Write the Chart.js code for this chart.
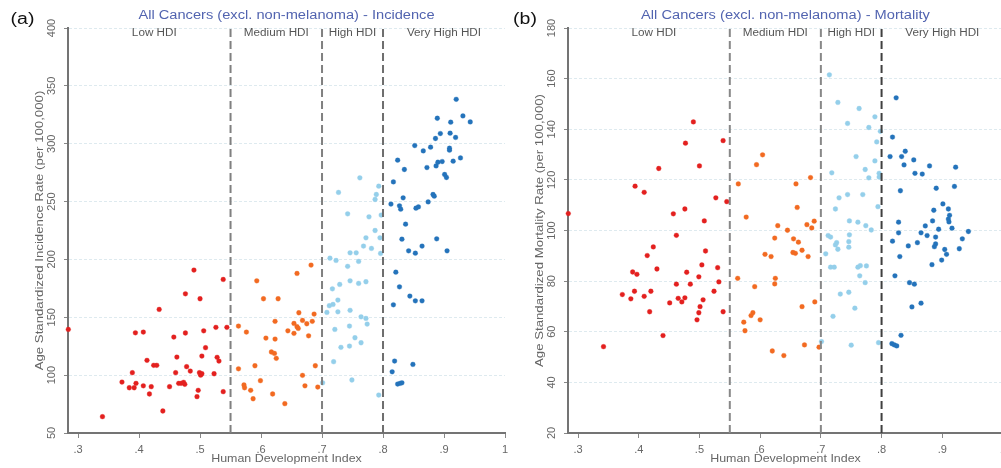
<!DOCTYPE html>
<html>
<head>
<meta charset="utf-8">
<script src="https://cdn.jsdelivr.net/npm/chart.js@4.4.1/dist/chart.umd.min.js"></script>
<style>
  html, body { margin: 0; padding: 0; background: #fff; }
  body { width: 1001px; height: 468px; overflow: hidden; position: relative; }
  .panel { position: absolute; top: 0; width: 520px; height: 468px; }
</style>
</head>
<body>
<div class="panel" style="left:0px"><canvas id="incidence" width="520" height="468"></canvas></div>
<div class="panel" style="left:500px"><canvas id="mortality" width="520" height="468"></canvas></div>
<script>
// ---- Axis ticks and HDI bands ----
const xTicks = [0.3, 0.4, 0.5, 0.6, 0.7, 0.8, 0.9, 1.0];
const xTickLabels = ['.3', '.4', '.5', '.6', '.7', '.8', '.9', '1'];
const incTicks = [50, 100, 150, 200, 250, 300, 350, 400];
const morTicks = [20, 40, 60, 80, 100, 120, 140, 160, 180];
const bandNames = ['Low HDI', 'Medium HDI', 'High HDI', 'Very High HDI'];
const bandEdges = [0.3, 0.55, 0.7, 0.8, 1.0];
const cutoffs = [0.55, 0.7, 0.8];

// ---- Incidence (per 100,000) by country HDI ----
const incLowHdi = [0.490,0.538,0.476,0.500,0.433,0.394,0.407,0.476,0.506,0.526,0.544,0.457,0.509,0.462,0.503,0.413,0.528,0.531,0.424,0.429,0.478,0.484,0.389,0.460,0.499,0.501,0.503,0.523,0.372,0.395,0.384,0.392,0.407,0.420,0.417,0.450,0.465,0.469,0.473,0.475,0.497,0.495,0.538,0.439,0.340,0.284];
const incLowRate = [190.8,182.7,170.3,166,156.8,136.6,137.2,136.4,138.3,141.3,141.3,132.9,123.7,115.6,116.5,112.8,115.4,112.2,108.5,108.5,107.3,103.5,102.1,102.1,102.1,100,101.2,101.2,94,92.9,89.1,89.1,90.8,90,83.7,90,92.9,92.9,93.8,92.1,86.9,81.4,85.7,69,64.1,139.5];
const incMedHdi = [0.682,0.659,0.593,0.604,0.628,0.662,0.687,0.623,0.668,0.684,0.675,0.654,0.659,0.661,0.644,0.654,0.563,0.576,0.608,0.623,0.678,0.617,0.622,0.625,0.563,0.590,0.689,0.668,0.599,0.572,0.573,0.583,0.672,0.693,0.619,0.587,0.639];
const incMedRate = [195.1,187.9,181.5,166,166,153.9,152.8,146.5,147.3,146.5,144.4,144.7,141.8,140.4,138.3,136.1,142.4,137.2,132,131.2,134,120,118.8,114.5,105.5,108.1,108.1,99.8,95.2,91.5,89.1,86.9,90.8,89.7,83.7,79.6,75.3];
const incHighHdi = [0.762,0.793,0.727,0.789,0.787,0.742,0.777,0.797,0.787,0.772,0.795,0.768,0.781,0.746,0.756,0.796,0.713,0.723,0.760,0.742,0.746,0.760,0.772,0.717,0.729,0.726,0.712,0.718,0.726,0.708,0.746,0.764,0.772,0.774,0.721,0.745,0.754,0.764,0.731,0.745,0.719,0.749,0.701,0.793];
const incHighRate = [270.5,263.3,257.9,256.1,251.8,239.4,236.8,238.3,225,218.7,218.7,211.5,209.5,205.7,205.7,205.2,201.1,199.1,198.3,194,181.5,179.3,180.7,174.6,178.4,164.9,160,161.1,154.7,154.2,156,150.4,149,144.1,139.5,142.4,132.3,128,124,125.1,111.6,95.8,93.4,82.8];
const incVHighHdi = [0.920,0.931,0.943,0.889,0.911,0.894,0.886,0.910,0.919,0.852,0.866,0.878,0.909,0.909,0.824,0.835,0.872,0.887,0.890,0.897,0.915,0.927,0.901,0.904,0.817,0.833,0.813,0.827,0.829,0.854,0.858,0.874,0.882,0.884,0.837,0.831,0.888,0.864,0.842,0.853,0.905,0.821,0.827,0.844,0.853,0.864,0.817,0.819,0.849,0.815,0.824,0.828,0.831];
const incVHighRate = [338.4,324,318.8,322,318.6,308.8,304.5,309.1,305.4,298.4,293.8,297,296.1,294.4,285.8,277.7,279.4,280.8,284,284.6,284.9,287.7,273.4,270.8,267,253.2,247.8,246.3,243.4,244.3,245.4,249.7,256.1,254.7,230.5,217.5,217.8,211.5,207.4,205.4,207.4,189,176.3,168.3,164.2,164.2,160.8,112.2,109.3,102.9,92.3,92.9,93.4];

// ---- Mortality (per 100,000) by country HDI ----
const morLowHdi = [0.490,0.477,0.539,0.433,0.500,0.394,0.409,0.527,0.545,0.284,0.457,0.476,0.508,0.462,0.424,0.510,0.414,0.430,0.504,0.530,0.390,0.397,0.479,0.499,0.462,0.485,0.532,0.373,0.393,0.387,0.409,0.420,0.524,0.451,0.465,0.471,0.476,0.506,0.501,0.499,0.496,0.418,0.539,0.440,0.342];
const morLowRate = [142.9,134.5,135.5,124.5,125.5,117.5,115.1,112.9,111.4,106.7,106.6,108.5,103.8,98.1,93.5,91.9,90.1,84.8,86.4,85.3,83.6,82.7,83.5,81.7,78.8,78.8,79.7,74.7,76,73,74,76,76,71.4,73.2,71.8,73.4,72.6,69.9,67.5,64.7,67.9,67.9,58.5,54.1];
const morMedHdi = [0.564,0.594,0.577,0.563,0.591,0.588,0.585,0.575,0.573,0.604,0.608,0.600,0.683,0.659,0.661,0.629,0.645,0.677,0.685,0.689,0.624,0.655,0.663,0.618,0.654,0.658,0.669,0.679,0.625,0.624,0.690,0.669,0.673,0.697,0.620,0.639];
const morMedRate = [118.4,126,105.3,81.1,77.8,67.5,66.4,60.4,63.8,129.9,90.6,64.7,120.9,118.4,109.1,101.9,100.1,102.3,101,103.7,97,96.7,95.4,89.7,91.3,91,92.2,89.7,81.1,78.9,71.8,69.9,54.8,53.9,52.4,50.6];
const morHighHdi = [0.714,0.728,0.763,0.789,0.744,0.779,0.798,0.792,0.758,0.789,0.773,0.718,0.796,0.779,0.796,0.744,0.730,0.769,0.794,0.724,0.747,0.761,0.774,0.783,0.712,0.716,0.747,0.726,0.746,0.724,0.728,0.746,0.708,0.716,0.722,0.761,0.765,0.775,0.764,0.773,0.732,0.746,0.756,0.720,0.701,0.750,0.795];
const morHighRate = [161.5,150.6,148.2,144.9,142.3,140.7,139.2,135,129.2,127.5,124.1,122.8,122.6,120.8,121.1,114.2,112.9,114.2,109.4,108.5,103.8,103.3,101.9,100.2,98,97.4,98.3,95.2,95.6,94.3,92.6,93.4,90.8,85.5,85.5,85.5,86.1,86,82.1,79.4,74.9,75.6,69.3,66.1,56.1,54.7,55.7];
const morVHighHdi = [0.824,0.818,0.839,0.814,0.833,0.853,0.837,0.879,0.922,0.855,0.867,0.890,0.920,0.831,0.901,0.910,0.886,0.912,0.910,0.911,0.828,0.884,0.872,0.916,0.894,0.943,0.828,0.865,0.875,0.889,0.933,0.818,0.859,0.844,0.889,0.887,0.904,0.928,0.907,0.830,0.899,0.883,0.822,0.846,0.854,0.865,0.850,0.832,0.817,0.821,0.825];
const morVHighRate = [152.4,136.9,131.3,129.2,129.2,127.9,125.9,125.5,125,122.6,122.3,116.7,117.4,115.7,110.5,108.5,108,106,104.5,103.4,103.3,103.8,101.8,100.9,100.5,99.6,99.1,99.1,98,97.4,96.7,95.8,95.2,93.9,94.7,93.6,92.5,92.8,90.6,89.7,88.3,86.5,82.1,79.4,78.8,71.3,69.8,58.6,55.3,54.8,54.4];

const bandColors = ['#e3201f', '#f26a21', '#94cfea', '#2473bb'];
const bandHalos = ['rgba(227,32,31,0.3)', 'rgba(242,106,33,0.3)', 'rgba(148,207,234,0.35)', 'rgba(36,115,187,0.3)'];

const FONT = '"Liberation Sans", Arial, sans-serif';

function pairs(xs, ys) {
  return xs.map((x, i) => ({ x: x, y: ys[i] }));
}

// text drawn slightly widened along its baseline
function drawText(ctx, text, x, y, opt) {
  ctx.save();
  ctx.translate(x, y);
  if (opt.rotate) ctx.rotate(opt.rotate);
  ctx.scale(opt.sx || 1, 1);
  ctx.font = opt.font;
  ctx.fillStyle = opt.color;
  ctx.textAlign = opt.align || 'center';
  ctx.textBaseline = 'middle';
  ctx.fillText(text, 0, 0);
  ctx.restore();
}

const annotations = {
  id: 'panelText',
  afterDraw(chart, args, o) {
    const { ctx, chartArea: a, scales } = chart;
    const xs = scales.x;
    const cx = (a.left + a.right) / 2;
    drawText(ctx, o.panel, o.panelX, 19.5, { font: '16px ' + FONT, color: '#111', sx: 1.22 });
    drawText(ctx, o.title, cx, 16, { font: '12px ' + FONT, color: '#5264b0', sx: 1.22 });
    for (let i = 0; i < bandNames.length; i++) {
      const mid = (bandEdges[i] + bandEdges[i + 1]) / 2;
      drawText(ctx, bandNames[i], xs.getPixelForValue(mid), 33.5, { font: '10px ' + FONT, color: '#555', sx: 1.17 });
    }
    drawText(ctx, o.yTitle, 39.5, (a.top + a.bottom) / 2, { font: '11px ' + FONT, color: '#666', sx: 1.2, rotate: -Math.PI / 2 });
    drawText(ctx, 'Human Development Index', cx, 459, { font: '11px ' + FONT, color: '#666', sx: 1.13 });
  }
};

function makePanel(id, cfg) {
  const groups = [
    pairs(cfg.low[0], cfg.low[1]),
    pairs(cfg.med[0], cfg.med[1]),
    pairs(cfg.high[0], cfg.high[1]),
    pairs(cfg.vhigh[0], cfg.vhigh[1])
  ];
  const yMin = cfg.yTicks[0], yMax = cfg.yTicks[cfg.yTicks.length - 1];
  const datasets = [];
  cutoffs.forEach((c, i) => {
    datasets.push({
      type: 'line',
      data: [{ x: c, y: yMin }, { x: c, y: yMax }],
      borderColor: cfg.cutColors[i],
      borderWidth: 2,
      borderDash: [8, 4],
      pointRadius: 0,
      fill: false
    });
  });
  groups.forEach((g, i) => {
    datasets.push({
      type: 'scatter',
      data: g,
      backgroundColor: bandColors[i],
      borderColor: bandHalos[i],
      borderWidth: 1,
      pointRadius: 2.4,
      clip: false
    });
  });

  new Chart(document.getElementById(id), {
    data: { datasets },
    plugins: [annotations],
    options: {
      responsive: false,
      devicePixelRatio: 1,
      animation: false,
      events: [],
      layout: { padding: { left: 0, top: 28, right: cfg.padRight, bottom: 0 } },
      plugins: {
        legend: { display: false },
        tooltip: { enabled: false },
        panelText: { panel: cfg.panel, panelX: cfg.panelX, title: cfg.title, yTitle: cfg.yTitle }
      },
      scales: {
        x: {
          type: 'linear',
          min: 0.2835,
          max: 1.0,
          afterBuildTicks(s) { s.ticks = xTicks.map(v => ({ value: v })); },
          afterFit(s) { s.height = 35; },
          ticks: {
            callback: (v, i) => xTickLabels[i],
            font: { family: FONT, size: 11 },
            color: '#666',
            padding: 5,
            maxRotation: 0,
            autoSkip: false
          },
          grid: { drawOnChartArea: false, drawTicks: true, tickLength: 5, tickColor: '#888', tickWidth: 1 },
          border: { color: '#747474', width: 2 }
        },
        y: {
          type: 'linear',
          min: yMin,
          max: yMax,
          afterBuildTicks(s) { s.ticks = cfg.yTicks.map(v => ({ value: v })); },
          afterFit(s) { s.width = 68; },
          ticks: {
            font: { family: FONT, size: 11 },
            color: '#666',
            minRotation: 90,
            maxRotation: 90,
            crossAlign: 'center',
            padding: 3,
            autoSkip: false
          },
          grid: {
            color: 'rgba(200,220,228,0.6)',
            lineWidth: 1,
            tickLength: 4,
            tickColor: '#888',
            tickWidth: 1,
            tickBorderDash: []
          },
          border: { color: '#747474', width: 2, dash: [3, 2] }
        }
      }
    }
  });
}

makePanel('incidence', {
  panel: '(a)', panelX: 22.5,
  title: 'All Cancers (excl. non-melanoma) - Incidence',
  yTitle: 'Age Standardized Incidence Rate (per 100,000)',
  yTicks: incTicks,
  padRight: 15,
  cutColors: ['#808080', '#808080', '#6e6e6e'],
  low: [incLowHdi, incLowRate], med: [incMedHdi, incMedRate],
  high: [incHighHdi, incHighRate], vhigh: [incVHighHdi, incVHighRate]
});

makePanel('mortality', {
  panel: '(b)', panelX: 25,
  title: 'All Cancers (excl. non-melanoma) - Mortality',
  yTitle: 'Age Standardized Mortality Rate (per 100,000)',
  yTicks: morTicks,
  padRight: 17,
  cutColors: ['#888888', '#888888', '#404040'],
  low: [morLowHdi, morLowRate], med: [morMedHdi, morMedRate],
  high: [morHighHdi, morHighRate], vhigh: [morVHighHdi, morVHighRate]
});
</script>
</body>
</html>
